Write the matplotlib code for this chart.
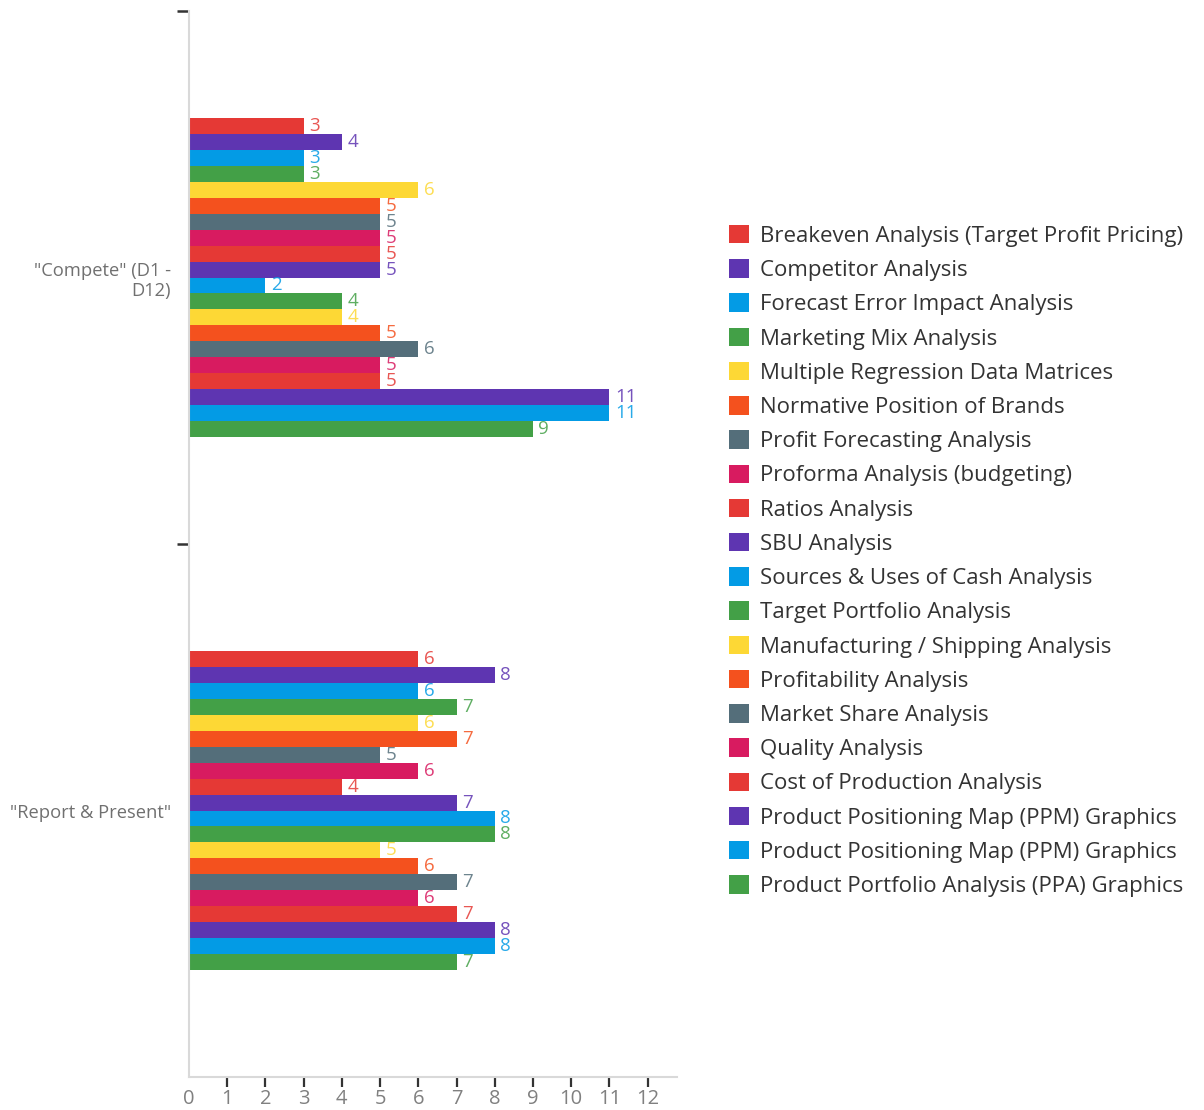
import matplotlib
matplotlib.use("Agg")
import matplotlib.pyplot as plt
from matplotlib.patches import Patch

plt.rcParams['font.family'] = ['Open Sans', 'DejaVu Sans']

categories = ['"Compete" (D1 -\nD12)', '"Report & Present"']

series_names = [
    "Breakeven Analysis (Target Profit Pricing)",
    "Competitor Analysis",
    "Forecast Error Impact Analysis",
    "Marketing Mix Analysis",
    "Multiple Regression Data Matrices",
    "Normative Position of Brands",
    "Profit Forecasting Analysis",
    "Proforma Analysis (budgeting)",
    "Ratios Analysis",
    "SBU Analysis",
    "Sources & Uses of Cash Analysis",
    "Target Portfolio Analysis",
    "Manufacturing / Shipping Analysis",
    "Profitability Analysis",
    "Market Share Analysis",
    "Quality Analysis",
    "Cost of Production Analysis",
    "Product Positioning Map (PPM) Graphics",
    "Product Positioning Map (PPM) Graphics",
    "Product Portfolio Analysis (PPA) Graphics",
]

compete_values = [3, 4, 3, 3, 6, 5, 5, 5, 5, 5, 2, 4, 4, 5, 6, 5, 5, 11, 11, 9]
report_values = [6, 8, 6, 7, 6, 7, 5, 6, 4, 7, 8, 8, 5, 6, 7, 6, 7, 8, 8, 7]

x_ticks = list(range(0, 13))

palette = ["#E53935", "#5E35B1", "#039BE5", "#43A047",
           "#FDD835", "#F4511E", "#546E7A", "#D81B60"]
colors = [palette[i % len(palette)] for i in range(len(series_names))]

values_by_cat = [compete_values, report_values]

fig = plt.figure(figsize=(12.04, 11.10), dpi=100)
ax = fig.add_axes([189/1204, 1 - 1077/1110, (677-189)/1204, (1077-11)/1110])

n = len(series_names)
group_h = 0.598
bh = group_h / n

for i in range(n):
    for c in range(len(categories)):
        v = values_by_cat[c][i]
        y = c - group_h/2 + (i + 0.5) * bh
        ax.barh(y, v, height=bh, color=colors[i], edgecolor='none')
        ax.annotate(str(v), xy=(v, y), xytext=(4, 0), textcoords='offset points',
                    va='center', ha='left', fontsize=13.5, color=colors[i], alpha=0.85)

ax.set_xlim(0, 12.77)
ax.set_ylim(1.5, -0.5)

ax.set_xticks(x_ticks)
ax.set_xticklabels([str(t) for t in x_ticks], fontsize=14.5, color='#808080')
ax.tick_params(axis='x', length=7, width=1.6, color='#333333', pad=2, direction='out')
xt = ax.xaxis.get_major_ticks()
xt[0].tick1line.set_visible(False)

ax.set_yticks([-0.5, 0.5])
ax.set_yticklabels(['', ''])
ax.tick_params(axis='y', which='major', length=9, width=1.8, color='#333333')
ax.set_yticks([0, 1], minor=True)
ax.set_yticklabels(categories, minor=True, fontsize=13.2, color='#707070', ha='right')
ax.tick_params(axis='y', which='minor', length=0, pad=13)

for s in ['top', 'right']:
    ax.spines[s].set_visible(False)
for s in ['left', 'bottom']:
    ax.spines[s].set_color('#d9d9d9')
    ax.spines[s].set_linewidth(1.5)

handles = [Patch(facecolor=colors[i], edgecolor='none') for i in range(n)]
fig.legend(handles, series_names, loc='upper left', bbox_to_anchor=(729/1204, 1 - 225/1110),
           frameon=False, fontsize=16, handlelength=0.9, handleheight=0.9,
           handletextpad=0.5, labelspacing=0.555, labelcolor='#333333', borderaxespad=0,
           borderpad=0)

fig.savefig("out.png", dpi=100)
